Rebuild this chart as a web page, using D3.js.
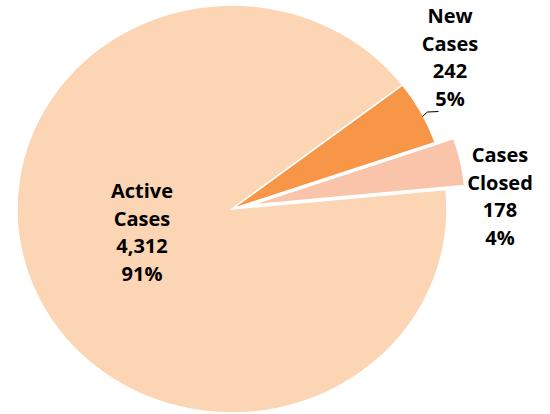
<!DOCTYPE html>
<html>
<head>
<meta charset="utf-8">
<script src="https://cdn.jsdelivr.net/npm/d3@7"></script>
<style>
  html, body { margin: 0; padding: 0; background: #fff; }
  svg { display: block; }
  text { font-family: "Open Sans", "Liberation Sans", sans-serif; font-weight: bold; fill: #000; }
</style>
</head>
<body>
<svg id="chart" width="550" height="414"></svg>
<script>
// ---- data ----
const categories = ["Active Cases", "New Cases", "Cases Closed"];
const labelLines = [["Active", "Cases"], ["New", "Cases"], ["Cases", "Closed"]];
const values = [4312, 242, 178];
const colors = ["#FCD5B5", "#F79646", "#F9C4A9"];
const explode = [0, 0, 18];

// ---- layout ----
const W = 550, H = 414;
const cx = 232, cy = 209;
const R = 204, sx = 215 / 204;
const startDeg = 84.5;
const lineH = 27.6;
const fontSize = 20;
// label anchors: [centre x, first baseline y]
const labelPos = [[142, 198], [450, 23], [500, 162]];

const svg = d3.select("#chart");
const total = d3.sum(values);
const pie = d3.pie().sort(null).value(d => d)
  .startAngle(startDeg * Math.PI / 180)
  .endAngle(startDeg * Math.PI / 180 + 2 * Math.PI);
const arcs = pie(values);
const arcGen = d3.arc().innerRadius(0).outerRadius(R);

const g = svg.append("g").attr("transform", `translate(${cx},${cy}) scale(${sx},1)`);

g.selectAll("path").data(arcs).enter().append("path")
  .attr("d", arcGen)
  .attr("fill", (d, i) => colors[i])
  .attr("stroke", "#fff")
  .attr("stroke-width", 1.5)
  .attr("vector-effect", "non-scaling-stroke")
  .attr("transform", (d, i) => {
    const a = (d.startAngle + d.endAngle) / 2;
    return `translate(${explode[i] * Math.sin(a)},${-explode[i] * Math.cos(a)})`;
  });

// leader line for New Cases
{
  const d = arcs[1];
  const a = (d.startAngle + d.endAngle) / 2 + 0.02;
  const x0 = cx + sx * (R - 1) * Math.sin(a);
  const y0 = cy - (R - 1) * Math.cos(a);
  svg.append("path")
    .attr("d", `M${x0},${y0} L${x0 + 5},${y0 - 4.5} L${x0 + 16},${y0 - 5}`)
    .attr("fill", "none")
    .attr("stroke", "#000")
    .attr("stroke-width", 1);
}

// labels
const fmt = d3.format(",");
arcs.forEach((d, i) => {
  const lines = labelLines[i].concat([fmt(values[i]), Math.round(values[i] / total * 100) + "%"]);
  const t = svg.append("text")
    .attr("text-anchor", "middle")
    .attr("font-size", fontSize)
    .attr("x", labelPos[i][0])
    .attr("y", labelPos[i][1]);
  lines.forEach((ln, k) => {
    t.append("tspan")
      .attr("x", labelPos[i][0])
      .attr("dy", k === 0 ? 0 : lineH)
      .text(ln);
  });
});
</script>
</body>
</html>
